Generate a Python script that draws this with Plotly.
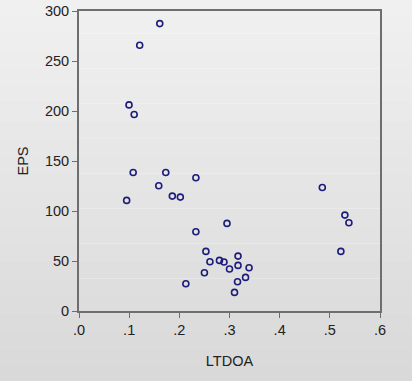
import plotly.graph_objects as go

ltdoa = [0.161, 0.121, 0.0997, 0.110, 0.108, 0.173, 0.233, 0.159, 0.095, 0.186,
         0.202, 0.485, 0.530, 0.538, 0.522, 0.295, 0.233, 0.253, 0.317, 0.261,
         0.280, 0.289, 0.317, 0.300, 0.339, 0.250, 0.332, 0.316, 0.213, 0.310]
eps = [287.4, 265.7, 206.1, 196.5, 138.5, 138.5, 133.2, 125.2, 110.6, 114.9,
       113.9, 123.5, 95.9, 88.2, 59.6, 87.6, 79.3, 59.6, 54.9, 49.3,
       50.6, 49.0, 45.6, 42.0, 43.3, 38.3, 33.6, 29.3, 27.3, 18.6]

x_tickvals = [0, 0.1, 0.2, 0.3, 0.4, 0.5, 0.6]
x_ticktext = [".0", ".1", ".2", ".3", ".4", ".5", ".6"]
y_tickvals = [0, 50, 100, 150, 200, 250, 300]

fig = go.Figure()
fig.add_trace(go.Scatter(
    x=ltdoa, y=eps, mode="markers",
    marker=dict(symbol="circle-open", size=6, color="#1c1c7a", line=dict(width=1.6)),
    hoverinfo="skip", cliponaxis=False,
))

# soft vertical gradient background
bands = 24
for i in range(bands):
    t = i / (bands - 1)
    c = int(242 - 26 * t)
    fig.add_shape(type="rect", xref="paper", yref="paper",
                  x0=-0.5, x1=1.5, y0=1.1 - (i + 1) * (1.4 / bands), y1=1.1 - i * (1.4 / bands),
                  fillcolor=f"rgb({c},{c},{c})", line=dict(width=0), layer="below")

font = dict(family="Arial, Liberation Sans", size=14.5, color="#222")
axis_common = dict(showgrid=False, zeroline=False, showline=True, linecolor="#6e6e6e",
                   linewidth=2, mirror=True, ticks="outside", ticklen=5, tickwidth=1,
                   tickcolor="#6e6e6e", tickfont=font, automargin=False)

fig.update_layout(
    width=412, height=381,
    margin=dict(l=79, r=32, t=11, b=70, autoexpand=False),
    paper_bgcolor="#e6e6e6",
    plot_bgcolor="white",
    showlegend=False,
    xaxis=dict(range=[0, 0.6], tickvals=x_tickvals, ticktext=x_ticktext,
               title=dict(text="LTDOA", font=font, standoff=18),
               **axis_common),
    yaxis=dict(range=[0, 300], tickvals=y_tickvals,
               title=dict(text="EPS", font=font, standoff=13),
               **axis_common),
)

fig.write_html("out.html", config={"displayModeBar": False},
               post_script="document.body.style.margin='0';document.body.style.background='#dcdcdc';")
